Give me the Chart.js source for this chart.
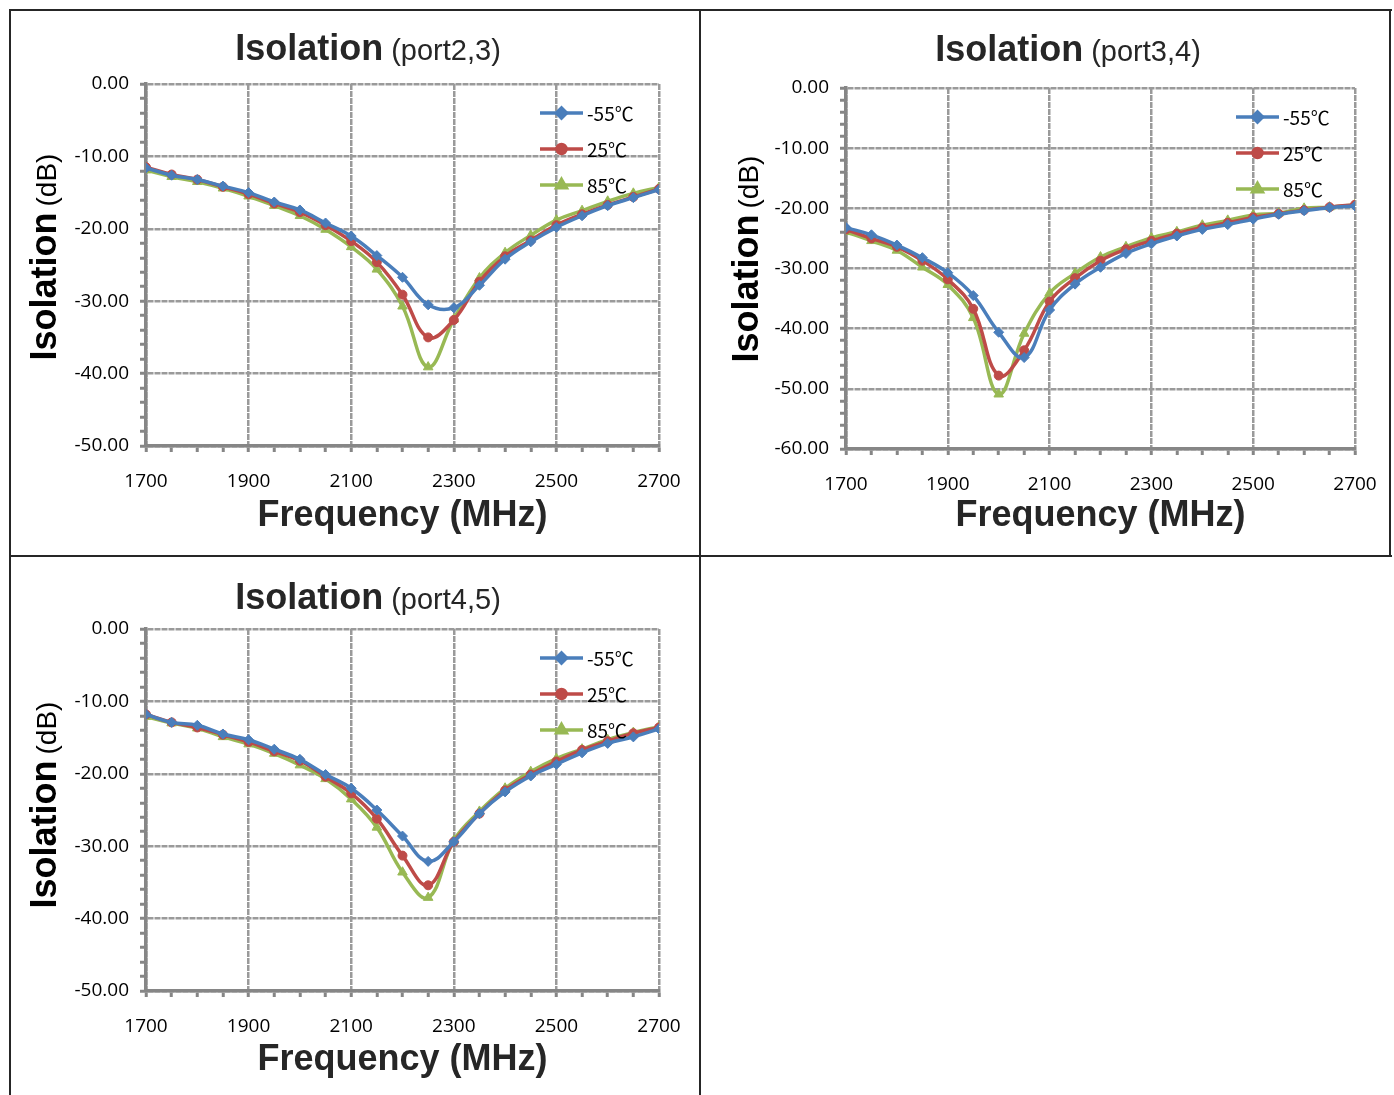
<!DOCTYPE html>
<html>
<head>
<meta charset="utf-8">
<script src="https://cdn.jsdelivr.net/npm/chart.js@4.4.1/dist/chart.umd.min.js"></script>
<style>
  body { margin: 0; background: #fff; }
  #page { position: relative; width: 1394px; height: 1095px; overflow: hidden; background: #fff; }
  .line { position: absolute; background: #262626; }
  canvas { position: absolute; }
  .title { position: absolute; width: 400px; text-align: center; line-height: 36px; color: #262626;
           font-family: "Liberation Sans", Arial, sans-serif; white-space: nowrap; }
  .title b { font-size: 36px; margin-right: 8px; }
  .title span { font-size: 29px; }
  .ytitle { position: absolute; width: 300px; height: 40px; line-height: 40px; text-align: center; color: #000;
            font-family: "Liberation Sans", Arial, sans-serif; transform: rotate(-90deg); white-space: nowrap; }
  .ytitle b { font-size: 36px; margin-right: 6px; }
  .ytitle span { font-size: 28px; }
</style>
</head>
<body>
<div id="page">
  <!-- рамки панелей -->
  <div class="line" style="left:9px;top:9px;width:1383px;height:2px"></div>
  <div class="line" style="left:9px;top:555px;width:1383px;height:2px"></div>
  <div class="line" style="left:9px;top:9px;width:2px;height:1086px"></div>
  <div class="line" style="left:699px;top:9px;width:2px;height:1086px"></div>
  <div class="line" style="left:1389px;top:9px;width:2px;height:548px"></div>

  <canvas id="c23" style="left:12px;top:12px"></canvas>
  <canvas id="c34" style="left:702px;top:12px"></canvas>
  <canvas id="c45" style="left:12px;top:558px"></canvas>

  <div class="title" style="left:168px;top:30px"><b>Isolation</b><span>(port2,3)</span></div>
  <div class="title" style="left:868px;top:31px"><b>Isolation</b><span>(port3,4)</span></div>
  <div class="title" style="left:168px;top:579px"><b>Isolation</b><span>(port4,5)</span></div>

  <div class="ytitle" style="left:-106px;top:237px"><b>Isolation</b><span>(dB)</span></div>
  <div class="ytitle" style="left:596px;top:239px"><b>Isolation</b><span>(dB)</span></div>
  <div class="ytitle" style="left:-106px;top:785px"><b>Isolation</b><span>(dB)</span></div>
</div>
<script>
const freqMHz = [1700, 1750, 1800, 1850, 1900, 1950, 2000, 2050, 2100, 2150, 2200,
                 2250, 2300, 2350, 2400, 2450, 2500, 2550, 2600, 2650, 2700];
const seriesLabels = ['-55℃', '25℃', '85℃'];

// port2,3
const p23_m55 = [-11.6, -12.6, -13.2, -14.1, -15.0, -16.3, -17.4, -19.2, -21.0, -23.7, -26.7,
                 -30.5, -30.9, -27.8, -24.2, -21.8, -19.8, -18.2, -16.8, -15.7, -14.6];
const p23_25  = [-11.5, -12.5, -13.2, -14.2, -15.2, -16.5, -17.7, -19.5, -21.7, -24.6, -29.1,
                 -35.0, -32.6, -27.3, -23.8, -21.6, -19.5, -18.0, -16.7, -15.6, -14.5];
const p23_85  = [-11.9, -12.8, -13.5, -14.4, -15.5, -16.8, -18.2, -20.1, -22.5, -25.6, -30.7,
                 -39.1, -32.5, -26.8, -23.3, -20.9, -18.8, -17.5, -16.2, -15.1, -14.3];

// port3,4
const p34_m55 = [-23.2, -24.4, -26.1, -28.2, -30.7, -34.5, -40.6, -44.8, -36.9, -32.6, -29.8,
                 -27.5, -25.9, -24.6, -23.5, -22.7, -21.8, -21.0, -20.4, -19.9, -19.6];
const p34_25  = [-23.5, -25.0, -26.4, -28.7, -31.8, -36.7, -47.8, -43.6, -35.5, -31.6, -28.7,
                 -26.8, -25.4, -24.2, -23.2, -22.4, -21.5, -20.9, -20.3, -19.8, -19.4];
const p34_85  = [-23.9, -25.4, -27.0, -29.8, -32.7, -38.2, -50.9, -40.8, -34.1, -30.8, -28.1,
                 -26.4, -24.9, -23.9, -22.8, -22.0, -21.1, -20.8, -20.0, -19.8, -19.4];

// port4,5
const p45_m55 = [-11.8, -12.9, -13.3, -14.5, -15.3, -16.6, -18.0, -20.1, -22.0, -25.0, -28.6,
                 -32.1, -29.4, -25.5, -22.5, -20.3, -18.7, -17.1, -15.8, -14.9, -13.8];
const p45_25  = [-11.8, -12.9, -13.6, -14.6, -15.6, -16.9, -18.2, -20.4, -22.7, -26.2, -31.3,
                 -35.4, -29.4, -25.5, -22.3, -20.1, -18.3, -16.7, -15.5, -14.4, -13.6];
const p45_85  = [-12.1, -13.0, -13.7, -14.9, -15.9, -17.2, -18.8, -20.7, -23.5, -27.4, -33.6,
                 -37.1, -29.2, -25.2, -22.0, -19.7, -17.9, -16.6, -15.3, -14.3, -13.5];

const colors = ['#4A7EBB', '#BE4B48', '#98B954'];
const pointStyles = ['rectRot', 'circle', 'triangle'];
const pointSizes = [5, 4.5, 5.5];
const axisGray = '#868686';
const gridGray = '#9a9a9a';
const tickFont = { family: '"Open Sans", "Liberation Sans", sans-serif', size: 19 };

// легенда внутри области графика, справа сверху
const insideLegend = {
    id: 'insideLegend',
    afterDatasetsDraw(chart) {
        const {ctx, chartArea} = chart;
        ctx.save();
        chart.data.datasets.forEach((ds, i) => {
            const y = chartArea.top + 29 + i * 36;
            const x0 = chartArea.right - 119;
            const x1 = chartArea.right - 76;
            ctx.strokeStyle = ds.borderColor;
            ctx.lineWidth = 3.5;
            ctx.beginPath();
            ctx.moveTo(x0, y);
            ctx.lineTo(x1, y);
            ctx.stroke();
            Chart.helpers.drawPoint(ctx, {
                pointStyle: ds.pointStyle, radius: ds.pointRadius, borderWidth: 1, rotation: 0
            }, (x0 + x1) / 2, y);
            ctx.fillStyle = ds.borderColor;
            ctx.fill();
            ctx.fillStyle = '#000';
            ctx.font = '19px "Noto Sans CJK SC", "Open Sans", sans-serif';
            ctx.textBaseline = 'middle';
            ctx.textAlign = 'left';
            ctx.fillText(ds.label, chartArea.right - 72, y + 1);
        });
        ctx.restore();
    }
};

function makeChart(id, series, geo) {
    const canvas = document.getElementById(id);
    canvas.width = 686;
    canvas.height = geo.h;

    const datasets = series.map((vals, i) => ({
        label: seriesLabels[i],
        data: freqMHz.map((f, k) => ({x: f, y: vals[k]})),
        borderColor: colors[i],
        backgroundColor: colors[i],
        borderWidth: 3.5,
        pointStyle: pointStyles[i],
        pointRadius: pointSizes[i],
        pointBorderWidth: 1,
        tension: 0.4
    }));

    return new Chart(canvas, {
        type: 'line',
        data: {datasets},
        options: {
            responsive: false,
            animation: false,
            layout: {padding: {left: 0, top: geo.top, right: 686 - geo.right, bottom: geo.h - geo.bottom - 100}},
            plugins: {legend: {display: false}, tooltip: {enabled: false}},
            scales: {
                x: {
                    type: 'linear',
                    min: 1700, max: 2700,
                    // фиксируем высоту оси и убираем авто-отступы под крайние подписи
                    afterFit: s => { s.height = 100; s.paddingLeft = 0; s.paddingRight = 0; },
                    ticks: {
                        stepSize: 50, autoSkip: false, color: '#000', font: tickFont, padding: 18, maxRotation: 0,
                        callback: v => (v - 1700) % 200 === 0 ? String(v) : ''
                    },
                    grid: {
                        color: c => c.tick && (c.tick.value - 1700) % 200 === 0 ? gridGray : 'rgba(0,0,0,0)',
                        lineWidth: 2.5, tickColor: axisGray, tickWidth: 3, tickLength: 6
                    },
                    border: {color: axisGray, width: 3.5, dash: [6, 1]},
                    title: {
                        display: true, text: 'Frequency (MHz)', color: '#262626',
                        font: {family: '"Liberation Sans", Arial, sans-serif', size: 36, weight: 'bold'},
                        padding: {top: 0, bottom: geo.tpad}
                    }
                },
                y: {
                    min: geo.ymin, max: 0,
                    afterFit: s => { s.width = geo.left; s.paddingTop = 0; s.paddingBottom = 0; },
                    ticks: {
                        stepSize: 2, autoSkip: false, color: '#000', font: tickFont, padding: 11,
                        callback: v => v % 10 === 0 ? v.toFixed(2) : ''
                    },
                    grid: {
                        color: c => c.tick && c.tick.value % 10 === 0 ? gridGray : 'rgba(0,0,0,0)',
                        lineWidth: 2.5, tickColor: axisGray, tickWidth: 3, tickLength: 6
                    },
                    border: {color: axisGray, width: 3.5, dash: [6, 1]}
                }
            }
        },
        plugins: [insideLegend]
    });
}

makeChart('c23', [p23_m55, p23_25, p23_85], {h: 542, left: 134, top: 72, right: 647, bottom: 434, ymin: -50, tpad: 8});
makeChart('c34', [p34_m55, p34_25, p34_85], {h: 542, left: 144, top: 76, right: 653, bottom: 437, ymin: -60, tpad: 11});
makeChart('c45', [p45_m55, p45_25, p45_85], {h: 537, left: 134, top: 71, right: 647, bottom: 433, ymin: -50, tpad: 9});
</script>
</body>
</html>
